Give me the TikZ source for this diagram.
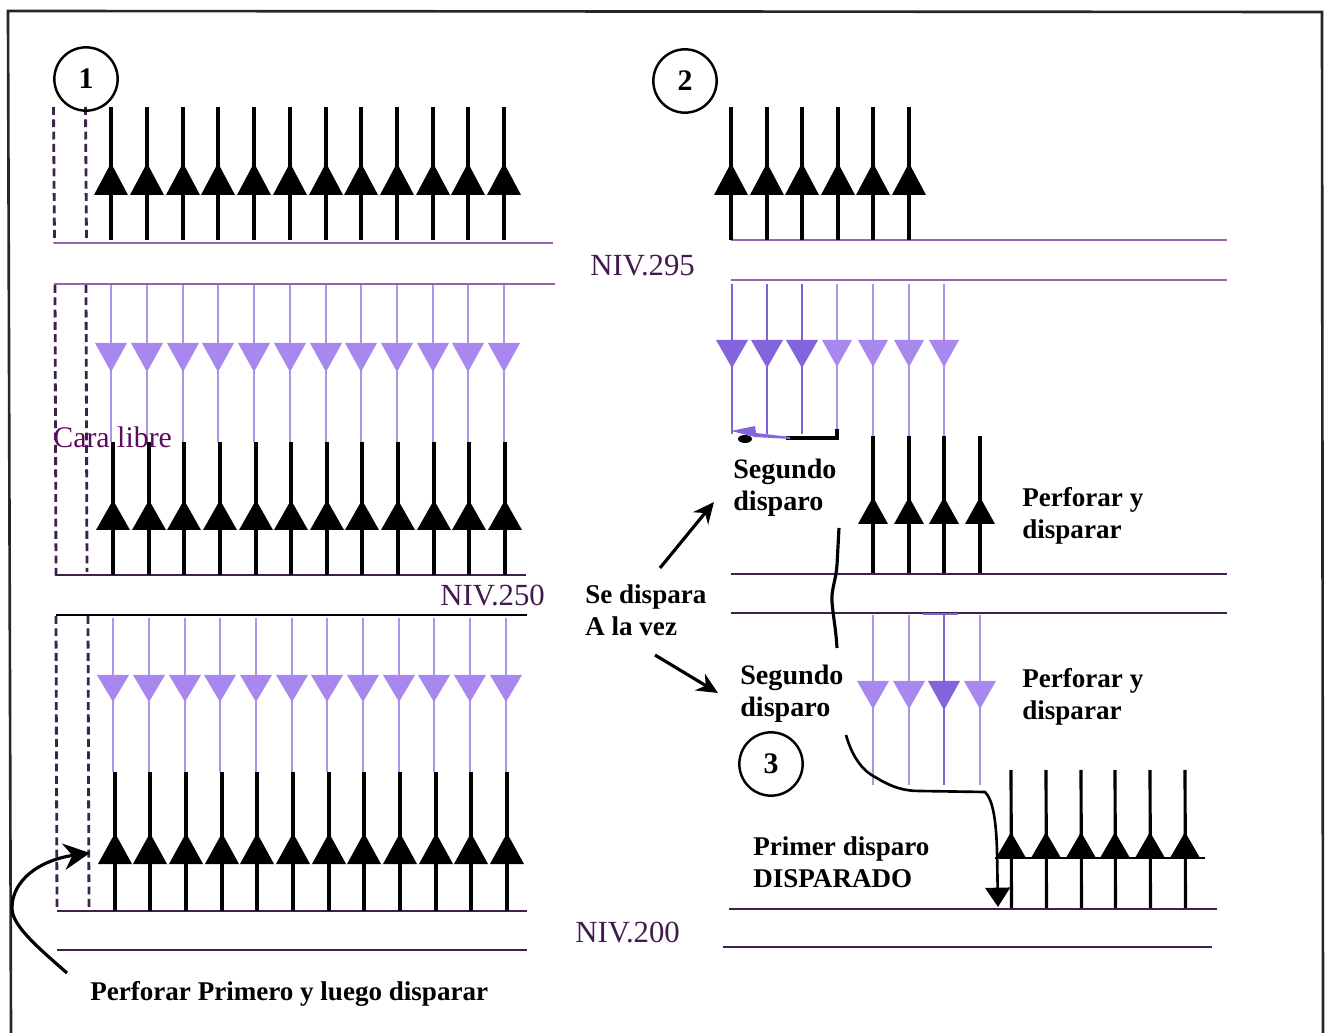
\documentclass[tikz,border=0pt]{standalone}
\usepackage{fontspec}
\setmainfont{Liberation Serif}
\usetikzlibrary{arrows.meta,positioning}
\definecolor{lilacline}{RGB}{172,148,232}
\definecolor{lilacfill}{RGB}{168,136,238}
\definecolor{violetline}{RGB}{128,98,214}
\definecolor{violetfill}{RGB}{132,100,220}
\definecolor{floorpink}{RGB}{150,100,175}
\definecolor{floordark}{RGB}{62,34,76}
\definecolor{nivel}{RGB}{66,26,78}

\begin{document}
\begin{tikzpicture}[x=0.02cm,y=-0.02cm,
    hole/.style={line width=2.1pt,black},
    lilachole/.style={line width=1.3pt,lilacline},
    violethole/.style={line width=1.3pt,violetline},
    floorline/.style={line width=1.3pt,floordark},
    pinkline/.style={line width=1.1pt,floorpink},
    freeface/.style={line width=1.6pt,floordark,dash pattern=on 4.5pt off 2.5pt},
    stepno/.style={draw,circle,line width=1.4pt,minimum size=1.81cm*0.7,font=\fontsize{17}{20}\selectfont\bfseries},
    heavy/.style={font=\fontsize{15.4}{18.1}\selectfont\bfseries,align=left,anchor=west,inner sep=0pt},
    nivlabel/.style={font=\fontsize{17.5}{18}\selectfont,text=nivel,anchor=west,inner sep=0pt},
    curvearrow/.style={line width=1.8pt,-{Stealth[length=15pt,width=15pt]}}]
  \useasboundingbox (0,0) rectangle (1326,1033);
  \fill[white] (0,0) rectangle (1326,1033);

  % frame
  \draw[line width=1.5pt,black!85] (11,1033) -- (8,11) -- (1322,12) -- (1323,1033);

  % panel 1, top bench
  \draw[freeface] (53.5,107) -- (54.5,243);
  \draw[freeface] (85.5,107) -- (86.5,243);
  \draw[pinkline] (54,243) -- (553,243);
  \foreach \x in {111,147,183,218,254,290,326,361,397,433,468,504} {
    \draw[hole] (\x,107) -- (\x,240);
    \fill[black] (\x-17,195) -- (\x+17,195) -- (\x,163) -- cycle;
  }

  % panel 1, middle bench
  \draw[pinkline] (54,284) -- (555,284);
  \draw[freeface] (55,285) -- (56,575);
  \draw[freeface] (86,285) -- (87,572);
  \draw[line width=1.5pt,floordark] (55,575) -- (526,575);
  \foreach \x in {111,147,183,218,254,290,326,361,397,433,468,504} {
    \draw[lilachole] (\x,285) -- (\x,442);
    \fill[lilacfill] (\x-16,343) -- (\x+16,343) -- (\x,372) -- cycle;
  }
  \foreach \x in {113,149,184,220,256,291,327,362,398,434,469,505} {
    \draw[hole] (\x,442) -- (\x,575);
    \fill[black] (\x-17,530) -- (\x+17,530) -- (\x,500) -- cycle;
  }

  % panel 1, bottom bench
  \draw[line width=1.3pt,black] (56,615) -- (527,615);
  \draw[freeface] (56,616) -- (57,911);
  \draw[freeface] (88,616) -- (89,911);
  \draw[floorline] (57,911) -- (527,911);
  \draw[floorline] (57,950) -- (527,950);
  \foreach \x in {113,149,185,220,256,292,327,363,399,434,470,506} {
    \draw[lilachole] (\x,618) -- (\x,772);
    \fill[lilacfill] (\x-16,675) -- (\x+16,675) -- (\x,702) -- cycle;
  }
  \foreach \x in {115,150,186,222,257,293,329,364,400,436,471,507} {
    \draw[hole] (\x,772) -- (\x,911);
    \fill[black] (\x-17,864) -- (\x+17,864) -- (\x,833) -- cycle;
  }

  % panel 2, top bench
  \draw[pinkline] (731,240) -- (1227,240);
  \draw[pinkline] (731,280) -- (1227,280);
  \foreach \x in {731,767,802,838,873,909} {
    \draw[hole] (\x,107) -- (\x,240);
    \fill[black] (\x-17,195) -- (\x+17,195) -- (\x,163) -- cycle;
  }

  % panel 2, second shot
  \foreach \x in {732,767,802} {
    \draw[violethole] (\x,284) -- (\x,434);
    \fill[violetfill] (\x-16,340) -- (\x+16,340) -- (\x,368) -- cycle;
  }
  \foreach \x in {837,873,909,944} {
    \draw[lilachole] (\x,284) -- (\x,436);
    \fill[lilacfill] (\x-15,340) -- (\x+15,340) -- (\x,367) -- cycle;
  }
  \foreach \x in {873,909,944,980} {
    \draw[hole] (\x,436) -- (\x,573);
    \fill[black] (\x-15,524) -- (\x+15,524) -- (\x,497) -- cycle;
  }
  \fill[black] (745,439) ellipse (7 and 4);
  \coordinate (returnend) at (786,438);
  \coordinate (returncorner) at (837,438);
  \draw[line width=1.8pt,black] (837,429) -- (returncorner) -- (returnend);
  \fill[violetfill] (731,431) -- (755,426) -- (756,433) -- (790,437) -- (790,439) -- (755,437) -- cycle;

  % panel 2, floors
  \draw[floorline] (731,574) -- (1227,574);
  \draw[floorline] (731,613) -- (1227,613);
  \draw[line width=1.5pt,violetline] (923,614) -- (958,614);

  % panel 3
  \foreach \x in {873,909,980} {
    \draw[lilachole] (\x,615) -- (\x,785);
    \fill[lilacfill] (\x-16,681) -- (\x+16,681) -- (\x,709) -- cycle;
  }
  \draw[violethole] (944,615) -- (944,785);
  \fill[violetfill] (928,681) -- (960,681) -- (944,710) -- cycle;
  \draw[floorline] (729,909) -- (1217,909);
  \draw[floorline] (723,947) -- (1212,947);
  \draw[line width=0.8pt,black] (995,858) -- (1205,858);
  \foreach \x in {1011,1046,1081,1115,1150,1185} {
    \draw[line width=1.8pt,black] (\x,770) -- (\x+0.5,908);
    \fill[black] (\x-15,858) -- (\x+15,858) -- (\x,832) -- cycle;
  }

  % step numbers
  \node[stepno] (stepone) at (86,79) {1};
  \node[stepno] (steptwo) at (685,81) {2};
  \node[stepno] (stepthree) at (771,764) {\raisebox{-3pt}{3}};

  % labels
  \node[nivlabel] (niv295) at (590,266) {NIV.295};
  \node[nivlabel] (niv250) at (440,596) {NIV.250};
  \node[nivlabel] (niv200) at (575,933) {NIV.200};
  \node[font=\fontsize{17}{18}\selectfont,text={rgb,255:red,92;green,10;blue,92},anchor=west,inner sep=0pt] (caralibre) at (53,437) {Cara libre};
  \node[heavy,font=\fontsize{16}{18.1}\selectfont\bfseries] (segundoa) at (733,488) {Segundo\\disparo};
  \node[heavy] (perforara) at (1022,516) {Perforar y\\disparar};
  \node[heavy] (sedispara) at (585,610) {Se dispara\\A la vez};
  \node[heavy,font=\fontsize{16}{18.1}\selectfont\bfseries] (segundob) at (740,694) {Segundo\\disparo};
  \node[heavy] (perforarb) at (1022,697) {Perforar y\\disparar};
  \node[heavy] (primer) at (753,862) {Primer disparo\\DISPARADO};
  \node[heavy] (perforarprimero) at (90,994) {Perforar Primero y luego disparar};

  % connectors
  \coordinate (upstart) at (660,568);
  \coordinate (upend) at (714,502);
  \coordinate (downstart) at (655,655);
  \coordinate (downend) at (718,693);
  \draw[line width=1.8pt,-{Stealth[length=12pt,width=11pt]}] (upstart) -- (upend);
  \draw[line width=1.8pt,-{Stealth[length=12pt,width=11pt]}] (downstart) -- (downend);

  \coordinate (sideend) at (90,853);
  \coordinate (sidestart) at (67,973);
  \draw[curvearrow] (sidestart) .. controls (35,945) and (12,925) .. (12,908)
    .. controls (12,880) and (40,860) .. (sideend);

  \coordinate (breakstart) at (839,528);
  \coordinate (breakend) at (837,648);
  \draw[line width=1.8pt] (breakstart) -- (837,565) .. controls (836,580) and (831,590) .. (832,602)
    .. controls (833,615) and (836,630) .. (breakend);

  \coordinate (firststart) at (846,735);
  \coordinate (firstend) at (998,907);
  \draw[line width=1.5pt,-{Triangle[length=11pt,width=14pt]}] (firststart) .. controls (853,760) and (865,772) .. (875,777)
    .. controls (893,788) and (905,791) .. (920,791) -- (985,792)
    .. controls (993,800) and (996,820) .. (997,850) -- (firstend);
\end{tikzpicture}
\end{document}
